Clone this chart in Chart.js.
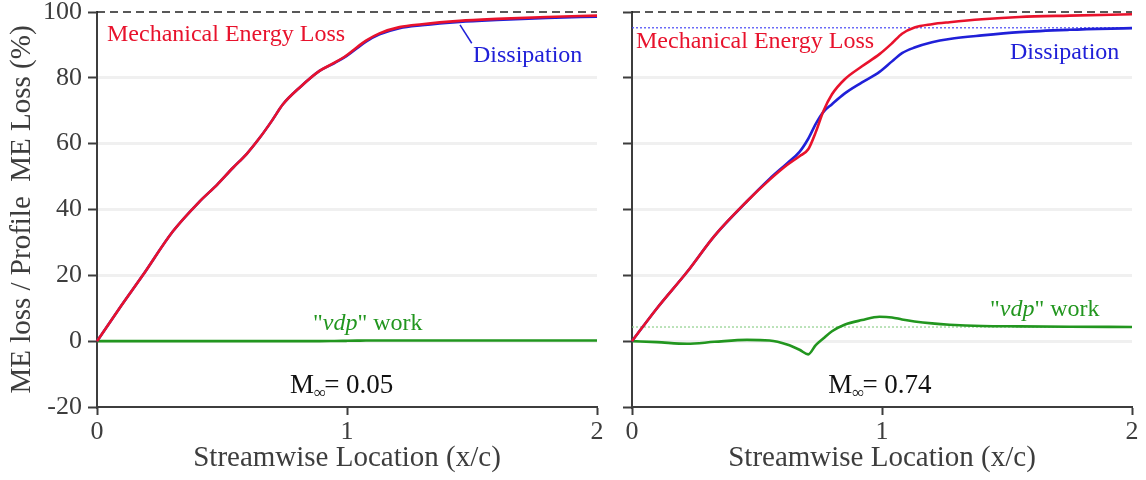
<!DOCTYPE html>
<html>
<head>
<meta charset="utf-8">
<script src="https://cdn.jsdelivr.net/npm/chart.js@4/dist/chart.umd.min.js"></script>
<style>
  html, body { margin: 0; padding: 0; background: #fff; }
  #wrap { position: relative; width: 1146px; height: 480px; overflow: hidden; }
  #lowMach { position: absolute; left: 0; top: 0; }
  #highMach { position: absolute; left: 600px; top: 0; }
</style>
</head>
<body>
<div id="wrap">
  <canvas id="lowMach" width="615" height="480"></canvas>
  <canvas id="highMach" width="546" height="480"></canvas>
</div>
<script>
// ---- M = 0.05 ----
const xLow = [0, 0.09, 0.183, 0.303, 0.41, 0.48, 0.543, 0.6, 0.65, 0.7, 0.743, 0.81, 0.89, 0.95, 0.996, 1.04, 1.076, 1.13, 1.21, 1.3, 1.45, 1.6, 1.8, 2.0];
const meLossLow = [0, 10, 20, 33.3, 42.4, 47.5, 52.6, 57, 61.7, 67, 71.9, 77, 82.1, 84.6, 86.7, 89.3, 91.3, 93.5, 95.4, 96.3, 97.3, 97.9, 98.5, 98.9];
const dissLow = [0, 10, 20, 33.3, 42.4, 47.5, 52.6, 57, 61.7, 67, 71.9, 77, 82.1, 84.5, 86.5, 89.0, 91.0, 93.2, 95.1, 96.0, 97.0, 97.6, 98.2, 98.6];
const vdpLow = [0, 0, 0, 0, 0, 0, 0, 0, 0, 0, 0, 0, 0, 0.05, 0.1, 0.15, 0.2, 0.2, 0.2, 0.2, 0.2, 0.2, 0.2, 0.2];

// ---- M = 0.74 ----
const xHigh = [0, 0.1, 0.22, 0.33, 0.46, 0.55, 0.62, 0.67, 0.705, 0.735, 0.765, 0.8, 0.85, 0.92, 0.99, 1.04, 1.08, 1.13, 1.2, 1.27, 1.4, 1.55, 1.75, 2.0];
const meLossHigh = [0, 10, 21, 32, 42.5, 49, 53.5, 56.2, 58.3, 63.5, 69.8, 75, 79.5, 83.5, 87.2, 90.5, 93.4, 95.3, 96.3, 96.9, 97.8, 98.5, 98.9, 99.3];
const dissHigh = [0, 10, 21, 32, 42.5, 49.3, 54, 57.5, 61.5, 66, 69.6, 72, 75.2, 78.6, 81.8, 85, 87.5, 89.2, 90.8, 91.8, 92.9, 93.9, 94.6, 95.1];
const vdpHigh = [0, -0.3, -0.8, -0.2, 0.4, 0.2, -1, -2.6, -4, -1.2, 0.8, 3, 5, 6.4, 7.4, 7.2, 6.6, 6.0, 5.4, 5.0, 4.6, 4.5, 4.4, 4.3];

// reference levels
const totalLoss = 100;
const dissLimitHigh = 95.2;
const vdpLimitHigh = 4.3;

// axis ticks
const xTicks = [0, 1, 2];
const yTicks = [-20, 0, 20, 40, 60, 80, 100];

const machLow = '0.05';
const machHigh = '0.74';

const SERIF = "'Liberation Serif', 'Times New Roman', serif";
const RED = '#e8122c';
const BLUE = '#2020d8';
const GREEN = '#22961f';
const AXIS = '#3d3d3d';

function pts(xs, ys) { return xs.map((x, i) => ({ x: x, y: ys[i] })); }
function level(v) { return [{ x: xTicks[0], y: v }, { x: xTicks[xTicks.length - 1], y: v }]; }

function curve(label, xs, ys, color, order) {
  return {
    label: label, data: pts(xs, ys), borderColor: color, borderWidth: 2.6,
    pointRadius: 0, cubicInterpolationMode: 'monotone', order: order, clip: 6
  };
}
function refLine(v, color, dash, width, order) {
  return {
    label: 'ref', data: level(v), borderColor: color, borderWidth: width,
    borderDash: dash, pointRadius: 0, order: order, clip: 6
  };
}

// draws text runs (with italic / subscript parts) anchored at data coordinates
const notesPlugin = {
  id: 'notes',
  afterDatasetsDraw(chart) {
    const notes = chart.options.plugins.notes.items || [];
    const ctx = chart.ctx;
    const xs = chart.scales.x, ys = chart.scales.y;
    ctx.save();
    notes.forEach(n => {
      if (n.line) {
        ctx.strokeStyle = n.color; ctx.lineWidth = 1.5;
        ctx.beginPath();
        ctx.moveTo(xs.getPixelForValue(n.line[0]), ys.getPixelForValue(n.line[1]));
        ctx.lineTo(xs.getPixelForValue(n.line[2]), ys.getPixelForValue(n.line[3]));
        ctx.stroke();
        return;
      }
      let px = xs.getPixelForValue(n.x);
      const py = ys.getPixelForValue(n.y);
      ctx.fillStyle = n.color;
      ctx.textBaseline = 'alphabetic';
      ctx.textAlign = 'left';
      n.runs.forEach(r => {
        const size = r.size || n.size;
        ctx.font = (r.italic ? 'italic ' : '') + size + 'px ' + SERIF;
        ctx.fillText(r.t, px, py + (r.dy || 0));
        px += ctx.measureText(r.t).width + (r.kern || 0);
      });
    });
    ctx.restore();
  }
};

function makeChart(id, cfg) {
  const yScale = {
    type: 'linear', min: -20, max: 100,
    afterBuildTicks: s => { s.ticks = yTicks.map(v => ({ value: v })); },
    afterFit: s => { s.width = cfg.yWidth; s.paddingTop = 0; s.paddingBottom = 0; },
    border: { display: true, color: AXIS, width: 2 },
    grid: {
      color: c => (c.tick && (c.tick.value === 100 || c.tick.value === -20)) ? 'rgba(0,0,0,0)' : '#f0f0f0',
      lineWidth: 3, tickColor: AXIS, tickWidth: 2, tickLength: 9, drawTicks: true
    },
    ticks: {
      display: true, padding: 6, color: AXIS,
      font: { family: SERIF, size: 26, lineHeight: 1 },
      callback: v => cfg.showYLabels ? String(v) : ''
    },
    title: {
      display: cfg.showYLabels, text: 'ME loss / Profile  ME Loss (%)', color: AXIS,
      font: { family: SERIF, size: 29, lineHeight: 1.2 }, padding: { top: 5, bottom: 0 }
    }
  };
  const xScale = {
    type: 'linear', min: 0, max: 2,
    afterBuildTicks: s => { s.ticks = xTicks.map(v => ({ value: v })); },
    afterFit: s => { s.height = 73; s.paddingLeft = 0; s.paddingRight = 0; },
    border: { display: true, color: AXIS, width: 2 },
    grid: { color: 'rgba(0,0,0,0)', tickColor: AXIS, tickWidth: 2, tickLength: 8, drawTicks: true },
    ticks: {
      padding: 4, color: AXIS, maxRotation: 0,
      font: { family: SERIF, size: 26, lineHeight: 1 },
      callback: v => String(v)
    },
    title: {
      display: true, text: 'Streamwise Location (x/c)', color: AXIS,
      font: { family: SERIF, size: 29, lineHeight: 1.2 }, padding: { top: 0, bottom: 4 }
    }
  };
  return new Chart(document.getElementById(id), {
    type: 'line',
    data: { datasets: cfg.datasets },
    options: {
      responsive: false, animation: false, events: [],
      layout: { padding: { top: 12, right: cfg.rightPad, left: 0, bottom: 0 } },
      scales: { x: xScale, y: yScale },
      plugins: { legend: { display: false }, tooltip: { enabled: false }, notes: { items: cfg.notes } }
    },
    plugins: [notesPlugin]
  });
}

makeChart('lowMach', {
  yWidth: 97, rightPad: 18, showYLabels: true,
  datasets: [
    refLine(totalLoss, '#222', [8, 5], 1.6, 5),
    curve('Dissipation', xLow, dissLow, BLUE, 2),
    curve('Mechanical Energy Loss', xLow, meLossLow, RED, 1),
    curve('vdp work', xLow, vdpLow, GREEN, 3)
  ],
  notes: [
    { x: 0.04, y: 91.2, color: RED, size: 24, runs: [{ t: 'Mechanical Energy Loss' }] },
    { x: 1.504, y: 84.8, color: BLUE, size: 24, runs: [{ t: 'Dissipation' }] },
    { line: [1.452, 96.1, 1.499, 90.5], color: BLUE },
    { x: 0.864, y: 3.4, color: GREEN, size: 24, runs: [{ t: '"' }, { t: 'vdp', italic: true }, { t: '" work' }] },
    { x: 0.772, y: -15.75, color: '#111', size: 27, runs: [{ t: 'M' }, { t: '\u221E', size: 17, dy: 5, kern: -2 }, { t: '= ' + machLow }] }
  ]
});

makeChart('highMach', {
  yWidth: 32, rightPad: 14, showYLabels: false,
  datasets: [
    refLine(totalLoss, '#222', [8, 5], 1.6, 5),
    refLine(dissLimitHigh, '#4848f5', [2, 2], 1.2, 6),
    refLine(vdpLimitHigh, '#8fd08c', [2, 2], 1.2, 6),
    curve('Dissipation', xHigh, dissHigh, BLUE, 2),
    curve('Mechanical Energy Loss', xHigh, meLossHigh, RED, 1),
    curve('vdp work', xHigh, vdpHigh, GREEN, 3)
  ],
  notes: [
    { x: 0.016, y: 89, color: RED, size: 24, runs: [{ t: 'Mechanical Energy Loss' }] },
    { x: 1.512, y: 85.7, color: BLUE, size: 24, runs: [{ t: 'Dissipation' }] },
    { x: 1.432, y: 7.5, color: GREEN, size: 24, runs: [{ t: '"' }, { t: 'vdp', italic: true }, { t: '" work' }] },
    { x: 0.785, y: -15.75, color: '#111', size: 27, runs: [{ t: 'M' }, { t: '\u221E', size: 17, dy: 5, kern: -2 }, { t: '= ' + machHigh }] }
  ]
});
</script>
</body>
</html>
